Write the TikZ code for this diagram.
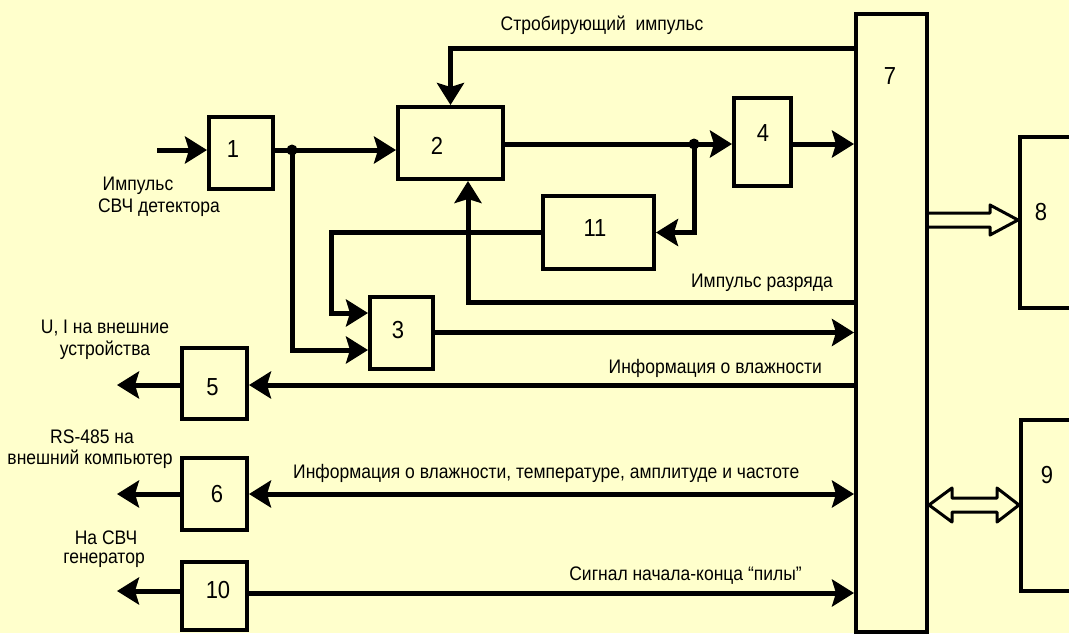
\documentclass[tikz,border=0pt]{standalone}
\usepackage{fontspec}
\setmainfont{Liberation Sans}
\usepackage{graphicx}
\usetikzlibrary{arrows.meta}
\definecolor{bg}{HTML}{FFFFCC}
\newcommand{\ys}[1]{\scalebox{1}[1.12]{#1}}
\begin{document}
\begin{tikzpicture}[x=1pt,y=-1pt,
  box/.style={draw, line width=4pt, inner sep=0pt},
  num/.style={font=\fontsize{22}{24}\selectfont, inner sep=0pt},
  lbl/.style={font=\fontsize{17.5}{20}\selectfont, inner sep=0pt},
  conn/.style={line width=5pt},
  tip/.tip={Stealth[length=22pt,width=27pt,inset=4pt]},
  arr/.style={conn, -tip},
  dot/.style={circle, fill, inner sep=0pt, minimum size=11pt},
  hollow/.style={draw, line width=3pt, fill=bg, line join=round}
]
\useasboundingbox (0,0) rectangle (1069,633);
\clip (0,0) rectangle (1069,633);
\fill[bg] (0,0) rectangle (1069,633);

% boxes
\node[box, minimum width=64pt, minimum height=72pt] (b1) at (241,153) {};
\node[box, minimum width=105pt, minimum height=72pt] (b2) at (450.5,143) {};
\node[box, minimum width=57pt, minimum height=88pt] (b4) at (762.5,142) {};
\node[box, minimum width=111pt, minimum height=73pt] (b11) at (598.5,232.5) {};
\node[box, minimum width=63pt, minimum height=72pt] (b3) at (401.5,332.5) {};
\node[box, minimum width=65pt, minimum height=71pt] (b5) at (214.5,383.5) {};
\node[box, minimum width=65pt, minimum height=72pt] (b6) at (214.5,494) {};
\node[box, minimum width=65pt, minimum height=68pt] (b10) at (214.5,596) {};
\node[box, minimum width=71pt, minimum height=618pt] (b7) at (891.5,323) {};
\node[box, minimum width=70pt, minimum height=171pt] (b8) at (1055,222.5) {};
\node[box, minimum width=70pt, minimum height=171pt] (b9) at (1056,505.5) {};

% box numbers
\node[num] (n1) at (233,149) {\ys{1}};
\node[num] (n2) at (437,146) {\ys{2}};
\node[num] (n4) at (763,133) {\ys{4}};
\node[num] (n11) at (595,228) {\ys{11}};
\node[num] (n3) at (398,330) {\ys{3}};
\node[num] (n5) at (212.5,387) {\ys{5}};
\node[num] (n6) at (217,494) {\ys{6}};
\node[num] (n10) at (218,590) {\ys{10}};
\node[num] (n7) at (890,76) {\ys{7}};
\node[num] (n8) at (1041,212) {\ys{8}};
\node[num] (n9) at (1047,475) {\ys{9}};

% junctions and free ends
\coordinate (in1) at (157,150);
\node[dot] (d1) at (292,150) {};
\node[dot] (d2) at (694,144) {};
\coordinate (c1) at (331,313);
\coordinate (o5) at (117,385);
\coordinate (o6) at (117,494);
\coordinate (o10) at (117,591);

% connectors
\draw[arr] (in1) -- (in1 -| b1.west);
\draw[conn] (b1.east |- d1) -- (d1.center);
\draw[arr] (d1.center) -- (d1 -| b2.west);
\draw[arr] (d1.center) |- (b3.west |- 0,350);
\draw[conn] (b2.east |- d2) -- (d2.center);
\draw[arr] (d2.center) -- (d2 -| b4.west);
\draw[arr] (b4.east |- d2) -- (d2 -| b7.west);
\draw[arr] (d2.center) |- (b11.east);
\draw[arr] (b11.west) -| (c1) -- (c1 -| b3.west);
\draw[arr] (b3.east) -- (b3.east -| b7.west);
\draw[arr] (b7.west |- 0,48) -| (b2.north);
\draw[arr] (b7.west |- 0,302) -| ([xshift=17.5pt]b2.south);
\draw[arr] (b7.west |- o5) -- (b5.east |- o5);
\draw[arr] (b5.west |- o5) -- (o5);
\draw[conn, tip-tip] (b6.east |- o6) -- (b7.west |- o6);
\draw[arr] (b6.west |- o6) -- (o6);
\draw[arr] (b10.east |- 0,593) -- (b7.west |- 0,593);
\draw[arr] (b10.west |- o10) -- (o10);

% hollow arrows
\coordinate (h8s) at (b7.east |- 0,220);
\coordinate (h8t) at (b8.west |- 0,220);
\draw[hollow] ([shift={(0,-7)}]h8s) -- ([shift={(-28,-7)}]h8t) -- ([shift={(-28,-15)}]h8t)
  -- (h8t) -- ([shift={(-28,15)}]h8t) -- ([shift={(-28,7)}]h8t) -- ([shift={(0,7)}]h8s);
\coordinate (h9s) at (b7.east |- 0,505);
\coordinate (h9t) at (b9.west |- 0,505);
\draw[hollow] (h9s) -- ([shift={(23,-17)}]h9s) -- ([shift={(23,-7)}]h9s) -- ([shift={(-22,-7)}]h9t)
  -- ([shift={(-22,-17)}]h9t) -- (h9t) -- ([shift={(-22,17)}]h9t) -- ([shift={(-22,7)}]h9t)
  -- ([shift={(23,7)}]h9s) -- ([shift={(23,17)}]h9s) -- cycle;

% texts
\node[lbl] (t1) at (602,25) {\ys{Стробирующий\ \ импульс}};
\node[lbl, anchor=east] (t2) at (833,283) {\ys{Импульс разряда}};
\node[lbl, anchor=east] (t3) at (822,368) {\ys{Информация о влажности}};
\node[lbl, anchor=west] (t4) at (293,473) {\ys{Информация о влажности, температуре, амплитуде и частоте}};
\node[lbl, anchor=east] (t5) at (802,576) {\ys{Сигнал начала-конца “пилы”}};
\node[lbl] (t6a) at (138,186) {\ys{Импульс}};
\node[lbl] (t6b) at (159,208) {\ys{СВЧ детектора}};
\node[lbl] (t7a) at (105,328) {\ys{U, I на внешние}};
\node[lbl] (t7b) at (105,350) {\ys{устройства}};
\node[lbl] (t8a) at (92,437) {\ys{RS-485 на}};
\node[lbl] (t8b) at (90,459) {\ys{внешний компьютер}};
\node[lbl] (t9a) at (106,538) {\ys{На СВЧ}};
\node[lbl] (t9b) at (104,560) {\ys{генератор}};
\end{tikzpicture}
\end{document}
